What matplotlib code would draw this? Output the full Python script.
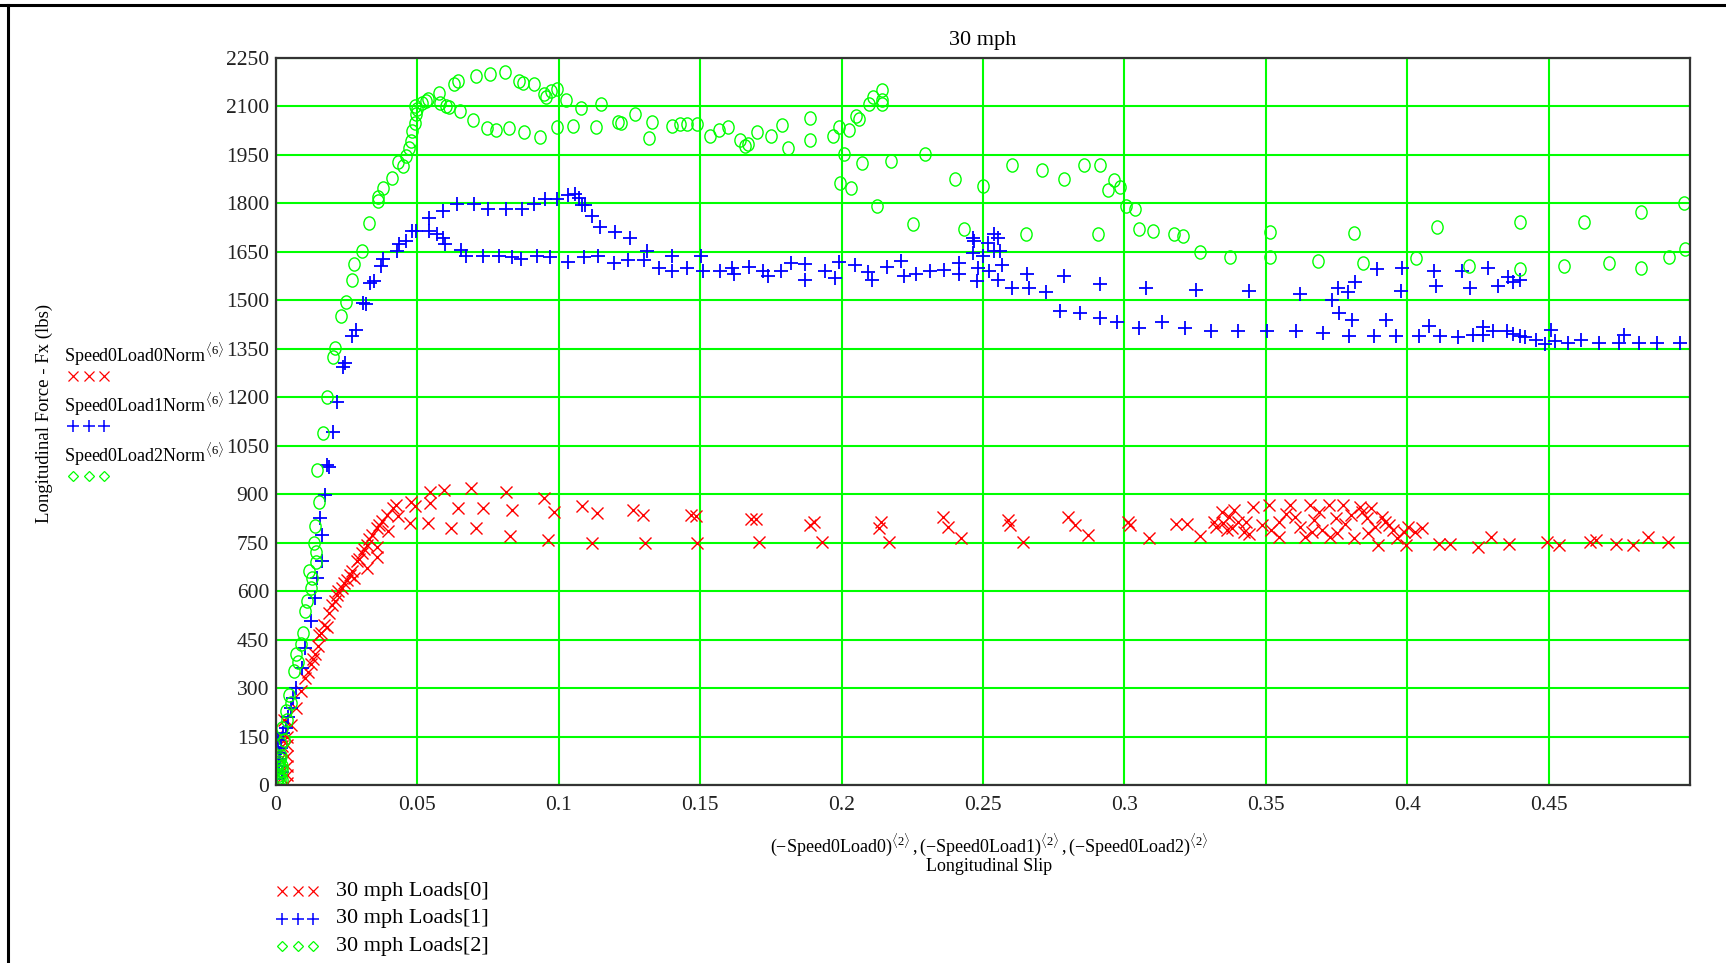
import matplotlib
matplotlib.use("Agg")
import matplotlib.pyplot as plt
from matplotlib.lines import Line2D
from matplotlib.path import Path
from matplotlib.transforms import Affine2D

plt.rcParams['font.family'] = ['Liberation Serif', 'DejaVu Serif']
plt.rcParams['mathtext.fontset'] = 'custom'
plt.rcParams['mathtext.rm'] = 'Liberation Serif'
plt.rcParams['mathtext.it'] = 'Liberation Serif:italic'

# ---- data (slip, force in lbs) ----
load0_x = [0.0005, 0.001, 0.0015, 0.002, 0.0022, 0.004, 0.004, 0.004, 0.004, 0.004,
           0.0038, 0.003, 0.0052, 0.0069, 0.0087,
           0.0104, 0.0122, 0.0139, 0.0151, 0.0169, 0.0186, 0.0198, 0.0215, 0.0233, 0.0251,
           0.0268, 0.0286, 0.0303, 0.0321, 0.0338, 0.0356, 0.0374, 0.0391, 0.0415, 0.0426,
           0.0356, 0.0356, 0.0321, 0.0275, 0.022, 0.018, 0.016, 0.0397, 0.0432, 0.0479,
           0.0112, 0.0130, 0.0148, 0.0208, 0.0242, 0.0262, 0.0295, 0.0312, 0.0330, 0.0365,
           0.0491, 0.0543, 0.0594, 0.069, 0.0813, 0.0947, 0.0982, 0.1082, 0.1135, 0.1263,
           0.1299, 0.1468, 0.1486, 0.0473, 0.0537, 0.0543, 0.0643, 0.0731, 0.0836, 0.0619,
           0.0707, 0.0828, 0.0961, 0.1117, 0.1304, 0.1488, 0.1678, 0.1699, 0.1707, 0.1902,
           0.189, 0.1932, 0.2139, 0.2133, 0.2166, 0.236, 0.2376, 0.2423, 0.2589, 0.2595,
           0.2642, 0.2799, 0.2825, 0.287, 0.3012, 0.3021, 0.3086, 0.3181, 0.322, 0.3268,
           0.3317, 0.3344, 0.3324, 0.3363, 0.337, 0.3389, 0.3402, 0.3422, 0.343, 0.3441,
           0.3454, 0.3487, 0.3513, 0.3546, 0.3546, 0.3585, 0.3604, 0.3637, 0.3656, 0.3663,
           0.3689, 0.3722, 0.3728, 0.3748, 0.3774, 0.378, 0.3813, 0.3832, 0.3839, 0.3858,
           0.3872, 0.3885, 0.3898, 0.3911, 0.3937, 0.3963, 0.3989, 0.3995, 0.4002, 0.4028,
           0.4054, 0.335, 0.338, 0.352, 0.357, 0.362, 0.367, 0.370, 0.375, 0.380,
           0.386, 0.392, 0.395, 0.4113, 0.4152, 0.4249, 0.4295, 0.436, 0.4495, 0.4537,
           0.4647, 0.4667, 0.4739, 0.4797, 0.485, 0.4921]
load0_y = [10, 40, 80, 120, 146, 5, 30, 60, 90, 125,
           150, 200, 187, 239, 290,
           332, 373, 404, 465, 496, 532, 558, 589, 610, 635,
           661, 692, 718, 743, 774, 795, 816, 836, 857, 867,
           707, 738, 671, 640, 600, 490, 470, 785, 831, 877,
           350, 390, 430, 570, 625, 650, 700, 730, 760, 805,
           862, 908, 913, 918, 908, 888, 846, 862, 841, 852,
           836, 836, 831, 810, 810, 872, 857, 857, 852, 795,
           795, 772, 759, 749, 749, 749, 822, 822, 752, 815,
           804, 752, 815, 794, 752, 830, 799, 764, 820, 804,
           752, 830, 804, 773, 815, 804, 763, 809, 809, 771,
           815, 846, 799, 789, 830, 851, 815, 783, 815, 778,
           861, 804, 867, 815, 768, 867, 830, 768, 867, 783,
           846, 867, 768, 825, 867, 809, 763, 861, 846, 825,
           856, 799, 742, 830, 804, 763, 783, 742, 799, 783,
           794, 810, 795, 790, 840, 800, 820, 790, 780, 835,
           780, 815, 790, 747, 747, 736, 768, 747, 752, 742,
           752, 757, 747, 742, 768, 752]

load1_x = [0.0005, 0.001, 0.0012, 0.0016, 0.002, 0.0008, 0.0015, 0.0025, 0.0042, 0.0060,
           0.0034, 0.0052, 0.0069, 0.0093, 0.0104,
           0.0122, 0.0139, 0.0145, 0.0163, 0.0163, 0.0157, 0.0174, 0.0186, 0.018, 0.0202,
           0.0216, 0.0236, 0.0243, 0.027, 0.0284, 0.0309, 0.0318, 0.0332, 0.0346, 0.0373,
           0.038, 0.0428, 0.0434, 0.0459, 0.0482, 0.0495, 0.0541, 0.0541, 0.057, 0.0592,
           0.0598, 0.0592, 0.0639, 0.0701, 0.0749, 0.0814, 0.0869, 0.0913, 0.0951, 0.0995,
           0.1033, 0.1056, 0.107, 0.1083, 0.1091, 0.1118, 0.1145, 0.1199, 0.1253,
           0.0653, 0.0671, 0.0732, 0.0787, 0.0833, 0.0865, 0.0924, 0.097, 0.1033, 0.109,
           0.1138, 0.1195, 0.1246, 0.13, 0.1313, 0.1354, 0.140, 0.140, 0.1452, 0.1504,
           0.1511, 0.1571, 0.1612, 0.1618, 0.1672, 0.1723, 0.1739, 0.1784, 0.182, 0.1871,
           0.1871, 0.1941, 0.1978, 0.1992, 0.2047, 0.2095, 0.2109, 0.2162, 0.2209, 0.2219,
           0.2262, 0.2312, 0.2363, 0.2414, 0.2414, 0.2463, 0.2469, 0.2463, 0.2478, 0.2499,
           0.2517, 0.254, 0.2552, 0.254, 0.2561, 0.2567, 0.2481, 0.252, 0.2554, 0.2603,
           0.2661, 0.2723, 0.2655, 0.2786, 0.2912, 0.3076, 0.3253, 0.3442, 0.3622, 0.3735,
           0.3755, 0.379, 0.3814, 0.3893, 0.398, 0.3978, 0.4095, 0.4102, 0.4195, 0.4223,
           0.4285, 0.432, 0.4355, 0.4374, 0.44,
           0.2773, 0.2842, 0.2912, 0.2975, 0.3052, 0.3134, 0.3214, 0.3305, 0.3403, 0.3504,
           0.3607, 0.3704, 0.3758, 0.3806, 0.3794, 0.3883, 0.3924, 0.3962, 0.4043, 0.4078,
           0.4116, 0.4178, 0.4232, 0.4268, 0.4268, 0.4305, 0.4353, 0.4374, 0.44, 0.4418,
           0.4457, 0.4489, 0.4509, 0.4524, 0.4568, 0.4613, 0.4678, 0.4749, 0.4767, 0.4818,
           0.4883, 0.4966]
load1_y = [20, 60, 100, 115, 40, 140, 80, 160, 210, 270,
           177, 239, 301, 362, 424,
           507, 579, 640, 692, 774, 826, 898, 985, 990, 1093,
           1186, 1294, 1306, 1391, 1407, 1491, 1489, 1553, 1561, 1607,
           1627, 1653, 1674, 1684, 1715, 1715, 1715, 1756, 1704, 1694,
           1674, 1778, 1797, 1797, 1782, 1782, 1782, 1797, 1815, 1815,
           1826, 1828, 1818, 1795, 1795, 1761, 1727, 1711, 1693,
           1655, 1638, 1638, 1638, 1633, 1627, 1638, 1633, 1620, 1635,
           1638, 1616, 1626, 1626, 1654, 1600, 1637, 1590, 1600, 1637,
           1592, 1590, 1600, 1580, 1602, 1590, 1574, 1592, 1616, 1611,
           1564, 1590, 1569, 1619, 1609, 1588, 1564, 1602, 1621, 1574,
           1580, 1590, 1595, 1616, 1580, 1693, 1683, 1647, 1559, 1637,
           1678, 1704, 1693, 1652, 1652, 1609, 1600, 1592, 1564, 1538,
           1538, 1526, 1582, 1574, 1552, 1538, 1533, 1530, 1521, 1501,
           1537, 1526, 1558, 1596, 1599, 1529, 1592, 1544, 1592, 1539,
           1599, 1544, 1571, 1558, 1563,
           1468, 1461, 1445, 1433, 1414, 1433, 1414, 1406, 1406, 1406,
           1406, 1400, 1462, 1439, 1390, 1390, 1439, 1390, 1390, 1422,
           1390, 1385, 1392, 1418, 1392, 1406, 1406, 1395, 1390, 1385,
           1377, 1366, 1408, 1375, 1369, 1377, 1369, 1369, 1392, 1369,
           1369, 1369]

load2_x = [0.0005, 0.0008, 0.001, 0.0012, 0.0015, 0.0018, 0.002, 0.0022, 0.0016, 0.0022,
           0.0005, 0.0010, 0.0015, 0.0020, 0.0008, 0.0013, 0.0028, 0.0040, 0.0052, 0.0078,
           0.0095, 0.0122, 0.0128,
           0.0034, 0.0046, 0.0063, 0.0069, 0.0087, 0.0104, 0.011, 0.0116, 0.0133, 0.0139,
           0.014, 0.0142, 0.0153, 0.0145, 0.0165, 0.018, 0.0202, 0.0207, 0.023, 0.0247,
           0.027, 0.0277, 0.0304, 0.0328, 0.0359, 0.0362, 0.038, 0.041, 0.043, 0.045,
           0.046, 0.047, 0.0476, 0.048, 0.049, 0.0496, 0.050, 0.0516, 0.0536,
           0.049, 0.053, 0.0577, 0.063, 0.0644, 0.0708, 0.0758, 0.081, 0.0859, 0.0873,
           0.0913, 0.0946, 0.0953, 0.0973, 0.0993, 0.1027, 0.108, 0.115,
           0.058, 0.060, 0.061, 0.065, 0.0698, 0.0745, 0.0778, 0.0825, 0.0876, 0.0933,
           0.0995, 0.105, 0.113, 0.121, 0.122, 0.127, 0.132, 0.133, 0.140, 0.143,
           0.1455, 0.149, 0.1535, 0.1565, 0.160, 0.164, 0.166, 0.167, 0.170, 0.175,
           0.179, 0.181, 0.189, 0.189, 0.197, 0.199, 0.2007, 0.2026, 0.205, 0.206,
           0.2097, 0.211, 0.2142, 0.2142, 0.2142,
           0.1995, 0.2035, 0.2073, 0.2124, 0.2174, 0.2253, 0.2295, 0.240, 0.2434, 0.2499,
           0.2602, 0.2652, 0.2707, 0.2785, 0.2856, 0.2912, 0.2942, 0.2962, 0.2983, 0.2907,
           0.3005, 0.3037, 0.3051, 0.3102, 0.3176, 0.3206, 0.3267, 0.3373, 0.3516, 0.3516,
           0.3684, 0.3812, 0.3844, 0.4031, 0.4104, 0.4219, 0.4398, 0.4398, 0.4556, 0.4625,
           0.4714, 0.4826, 0.4826, 0.4927, 0.4978, 0.4984]
load2_y = [10, 40, 70, 25, 55, 90, 15, 60, 126, 177,
           5, 30, 20, 45, 65, 80, 140, 200, 255, 380,
           470, 610, 640,
           229, 280, 352, 404, 435, 537, 568, 661, 749, 803,
           690, 720, 877, 975, 1088, 1201, 1324, 1352, 1453, 1496,
           1564, 1611, 1652, 1740, 1807, 1820, 1849, 1880, 1929, 1916,
           1947, 1973, 1993, 2024, 2050, 2076, 2092, 2112, 2123,
           2102, 2118, 2143, 2169, 2178, 2195, 2202, 2208, 2178, 2174,
           2169, 2140, 2128, 2149, 2154, 2120, 2094, 2107,
           2112, 2102, 2097, 2087, 2059, 2033, 2027, 2033, 2022, 2004,
           2037, 2041, 2035, 2052, 2049, 2078, 2002, 2051, 2040, 2047,
           2047, 2047, 2009, 2027, 2035, 1996, 1978, 1983, 2022, 2009,
           2043, 1973, 2064, 1996, 2009, 2037, 1952, 2027, 2071, 2061,
           2107, 2130, 2151, 2120, 2109,
           1864, 1849, 1924, 1792, 1931, 1737, 1952, 1877, 1721, 1854,
           1918, 1704, 1903, 1877, 1918, 1918, 1841, 1871, 1852, 1704,
           1792, 1783, 1722, 1716, 1706, 1699, 1649, 1634, 1711, 1634,
           1623, 1707, 1617, 1630, 1726, 1607, 1741, 1596, 1607, 1741,
           1614, 1601, 1774, 1635, 1802, 1658]

x_ticks = [0, 0.05, 0.1, 0.15, 0.2, 0.25, 0.3, 0.35, 0.4, 0.45]
x_tick_labels = ['0', '0.05', '0.1', '0.15', '0.2', '0.25', '0.3', '0.35', '0.4', '0.45']
y_ticks = list(range(0, 2251, 150))
legend_labels = ['30 mph Loads[0]', '30 mph Loads[1]', '30 mph Loads[2]']
axis_labels = ['Speed0Load0Norm', 'Speed0Load1Norm', 'Speed0Load2Norm']

RED, BLUE, GREEN = '#ff0000', '#0000ff', '#00ff00'
ellipse = Path.unit_circle().transformed(Affine2D().scale(0.85, 1.0))
styles = [dict(marker='x', color=RED, ms=9, mew=1.0),
          dict(marker='+', color=BLUE, ms=10.5, mew=1.3),
          dict(marker=ellipse, color=GREEN, ms=9.5, mew=1.0, mfc='none')]
# smaller glyph-like markers for the name/legend rows
small = [dict(marker='x', color=RED, ms=7.5, mew=0.9),
         dict(marker='+', color=BLUE, ms=8, mew=1.1),
         dict(marker='D', color=GREEN, ms=5.5, mew=0.9, mfc='none')]

W, H = 1726, 963
fig = plt.figure(figsize=(W / 100, H / 100), dpi=100)
ax = fig.add_axes([276 / W, 1 - 785 / H, (1690 - 276) / W, (785 - 58) / H])

for xs, ys, st in zip([load0_x, load1_x, load2_x], [load0_y, load1_y, load2_y], styles):
    ax.plot(xs, ys, ls='none', clip_on=True, **st)

ax.set_xlim(0, 0.5)
ax.set_ylim(0, 2250)
ax.set_xticks(x_ticks)
ax.set_xticklabels(x_tick_labels)
ax.set_yticks(y_ticks)
ax.tick_params(length=0, labelsize=15.5, colors='#222222')
ax.tick_params(axis='y', pad=5)
ax.tick_params(axis='x', pad=8)
ax.grid(True, color=GREEN, lw=1.5)
ax.set_axisbelow(True)
for sp in ax.spines.values():
    sp.set_color('#333333')
    sp.set_linewidth(1.6)

ax.set_title('30 mph', fontsize=16, pad=9)

# x axis expression label (Mathcad style)
fig.text(989 / W, 1 - 845 / H,
         r'$(-\mathrm{Speed0Load0})^{\langle 2\rangle}\,,(-\mathrm{Speed0Load1})^{\langle 2\rangle}\,,'
         r'(-\mathrm{Speed0Load2})^{\langle 2\rangle}$',
         ha='center', va='center', fontsize=13)
fig.text(989 / W, 1 - 866 / H, 'Longitudinal Slip', ha='center', va='center', fontsize=13)

# y axis label and expression names
fig.text(44 / W, 1 - 413 / H, 'Longitudinal Force - Fx (lbs)', rotation=90,
         ha='center', va='center', fontsize=13.5)

def marker_row(px, py, st):
    xs = [(px + i * 15.5) / W for i in range(3)]
    fig.add_artist(Line2D(xs, [1 - py / H] * 3, transform=fig.transFigure, ls='none', **st))

for i, (lab, st) in enumerate(zip(axis_labels, small)):
    ty = 354 + i * 50
    fig.text(64 / W, 1 - ty / H, lab + r'$^{\langle 6\rangle}$', ha='left', va='center', fontsize=13)
    marker_row(73, ty + 22, st)

# bottom legend
for i, (lab, st) in enumerate(zip(legend_labels, small)):
    ly = 891 + i * 27.5
    marker_row(282, ly, st)
    fig.text(336 / W, 1 - ly / H, lab, ha='left', va='center', fontsize=16)

# page border lines (top and left)
fig.add_artist(Line2D([0, 1], [1 - 5 / H, 1 - 5 / H], transform=fig.transFigure, color='black', lw=2.2))
fig.add_artist(Line2D([8 / W, 8 / W], [0, 1 - 5 / H], transform=fig.transFigure, color='black', lw=2.2))

fig.savefig('out.png', dpi=100)
